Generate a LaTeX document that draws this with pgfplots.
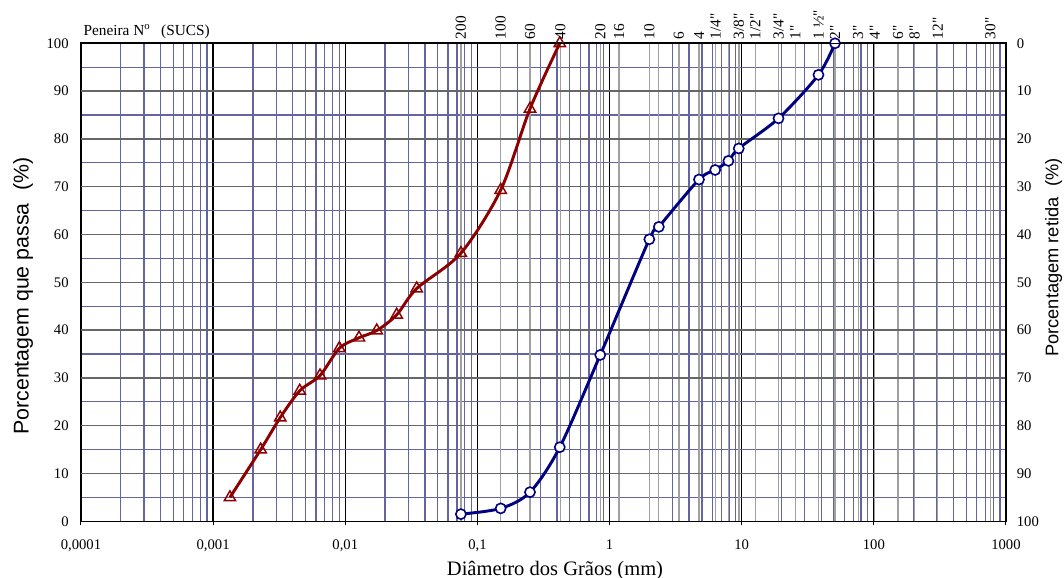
\documentclass[border=0pt]{standalone}
\usepackage{pgfplots}
\usepackage{pgfplotstable}
\pgfplotsset{compat=1.18}
\usepackage{fontspec}
\setmainfont{Liberation Serif}
\newfontfamily\sievefont{Liberation Serif}
\newfontfamily\arialf{Liberation Sans}
\definecolor{gridblue}{RGB}{100,100,160}
\definecolor{sievegray}{RGB}{160,160,160}
\definecolor{curvered}{RGB}{140,0,0}
\definecolor{curveblue}{RGB}{0,0,128}
\pgfplotstableread{
d p
0.00134 5.0
0.00229 15.0
0.00322 21.7
0.00452 27.3
0.00644 30.5
0.00902 36.2
0.0127 38.4
0.0173 39.9
0.0245 43.2
0.0347 48.7
0.075 56.1
0.15 69.3
0.25 86.3
0.42 100
}\redtable
\pgfplotstableread{
d p
0.075 1.5
0.15 2.7
0.25 6.1
0.42 15.5
0.85 34.8
2.0 59.0
2.36 61.6
4.75 71.5
6.3 73.5
7.93 75.4
9.5 78.0
19.0 84.3
38.1 93.4
50.8 100
}\bluetable
\begin{document}
\begin{tikzpicture}
\path[use as bounding box] (-60.75pt,-42.525pt) rectangle (737.25pt,390.975pt);
\begin{axis}[
  at={(0,0)}, anchor=south west, scale only axis,
  width=693.75pt, height=358.5pt,
  xmode=log, log basis x=10,
  xmin=1e-4, xmax=1e3, ymin=0, ymax=100,
  clip=false,
  xtick={1e-4,1e-3,0.01,0.1,1,10,100,1000},
  xticklabels={{0,0001},{0,001},{0,01},{0,1},1,10,100,1000},
  minor xtick={2e-4,3e-4,4e-4,5e-4,6e-4,7e-4,8e-4,9e-4,
               2e-3,3e-3,4e-3,5e-3,6e-3,7e-3,8e-3,9e-3,
               0.02,0.03,0.04,0.05,0.06,0.07,0.08,0.09,
               0.2,0.3,0.4,0.5,0.6,0.7,0.8,0.9,
               2,3,4,5,6,7,8,9,20,30,40,50,60,70,80,90,
               200,300,400,500,600,700,800,900},
  ytick={0,10,...,100},
  minor ytick={5,15,...,95},
  xmajorgrids, xminorgrids, yminorgrids, ymajorgrids=false,
  major grid style={black, line width=1pt},
  minor grid style={gridblue, line width=1pt},
  extra x ticks={0.075,0.15,0.25,0.425,0.85,1.18,2,2.36,3.35,4.75,6.35,7.94,9.525,12.7,19.05,25.4,38.1,50.8,76.2,101.6,152.4,203.2,304.8,762},
  extra x tick labels={},
  extra x tick style={grid=major, major grid style={sievegray, line width=0.9pt}, major tick length=0pt},
  extra y ticks={10,20,...,90},
  extra y tick labels={},
  extra y tick style={grid=major, major grid style={black!60, line width=1.15pt}, major tick length=0pt},
  xtick pos=bottom, ytick pos=left,
  tick align=outside, major tick length=3pt, minor tick length=0pt,
  ytick style={draw=none},
  xtick style={black, line width=0.75pt},
  axis line style={black, line width=1.2pt},
  /pgf/number format/assume math mode=true,
  ticklabel style={font=\fontsize{11}{13}\selectfont},
  xticklabel style={yshift=-7.3pt},
  yticklabel style={xshift=-2.8pt},
]
\addplot[curvered, line width=2.2pt, smooth, tension=0.5,
  mark=triangle, mark size=4.9pt,
  mark options={solid, fill=white, draw=curvered, line width=1.1pt}]
  table[x=d, y=p] {\redtable};
\addplot[curveblue, line width=2.2pt, smooth, tension=0.5,
  mark=*, mark size=3.8pt,
  mark options={solid, fill=white, draw=curveblue, line width=1.2pt}]
  table[x=d, y=p] {\bluetable};
\end{axis}
\begin{axis}[
  at={(0,0)}, anchor=south west, scale only axis,
  width=693.75pt, height=358.5pt,
  xmode=log, log basis x=10,
  xmin=1e-4, xmax=1e3, ymin=0, ymax=100, y dir=reverse,
  axis x line*=top, axis y line*=right,
  xtick={0.075,0.15,0.25,0.425,0.85,1.18,2,3.35,4.75,6.35,9.525,12.7,19.05,25.4,38.1,50.8,76.2,101.6,152.4,203.2,304.8,762},
  xticklabels={200,100,60,40,20,16,10,6,4,{1/4"},{3/8"},{1/2"},{3/4"},{1"},{1 ½"},{2"},{3"},{4"},{6"},{8"},{12"},{30"}},
  minor xtick={},
  ytick={0,10,...,100},
  major tick length=0pt, minor tick length=0pt,
  axis line style={black, line width=1.2pt},
  /pgf/number format/assume math mode=true,
  xticklabel style={rotate=90, anchor=west, inner xsep=3pt, inner ysep=0pt, font=\sievefont\fontsize{11.5}{13}\selectfont},
  yticklabel style={font=\fontsize{11}{13}\selectfont, xshift=4.6pt},
]
\end{axis}
\node[anchor=base west, inner sep=0pt, font=\fontsize{11.5}{13}\selectfont] at (1.7pt,364.7pt) {Peneira N\textsuperscript{o}\hspace{0.7em}(SUCS)};
\node[anchor=base, inner sep=0pt, font=\fontsize{15.4}{17}\selectfont] at (355.5pt,-40.3pt) {Diâmetro dos Grãos (mm)};
\node[rotate=90, inner sep=0pt, font=\arialf\fontsize{16}{18}\selectfont] at (-43.5pt,169pt) {Porcentagem que passa\hspace{0.6em}(\%)};
\node[rotate=90, inner sep=0pt, font=\arialf\fontsize{13.7}{16}\selectfont] at (729.5pt,197.9pt) {Porcentagem retida\hspace{0.6em}(\%)};
\end{tikzpicture}
\end{document}
